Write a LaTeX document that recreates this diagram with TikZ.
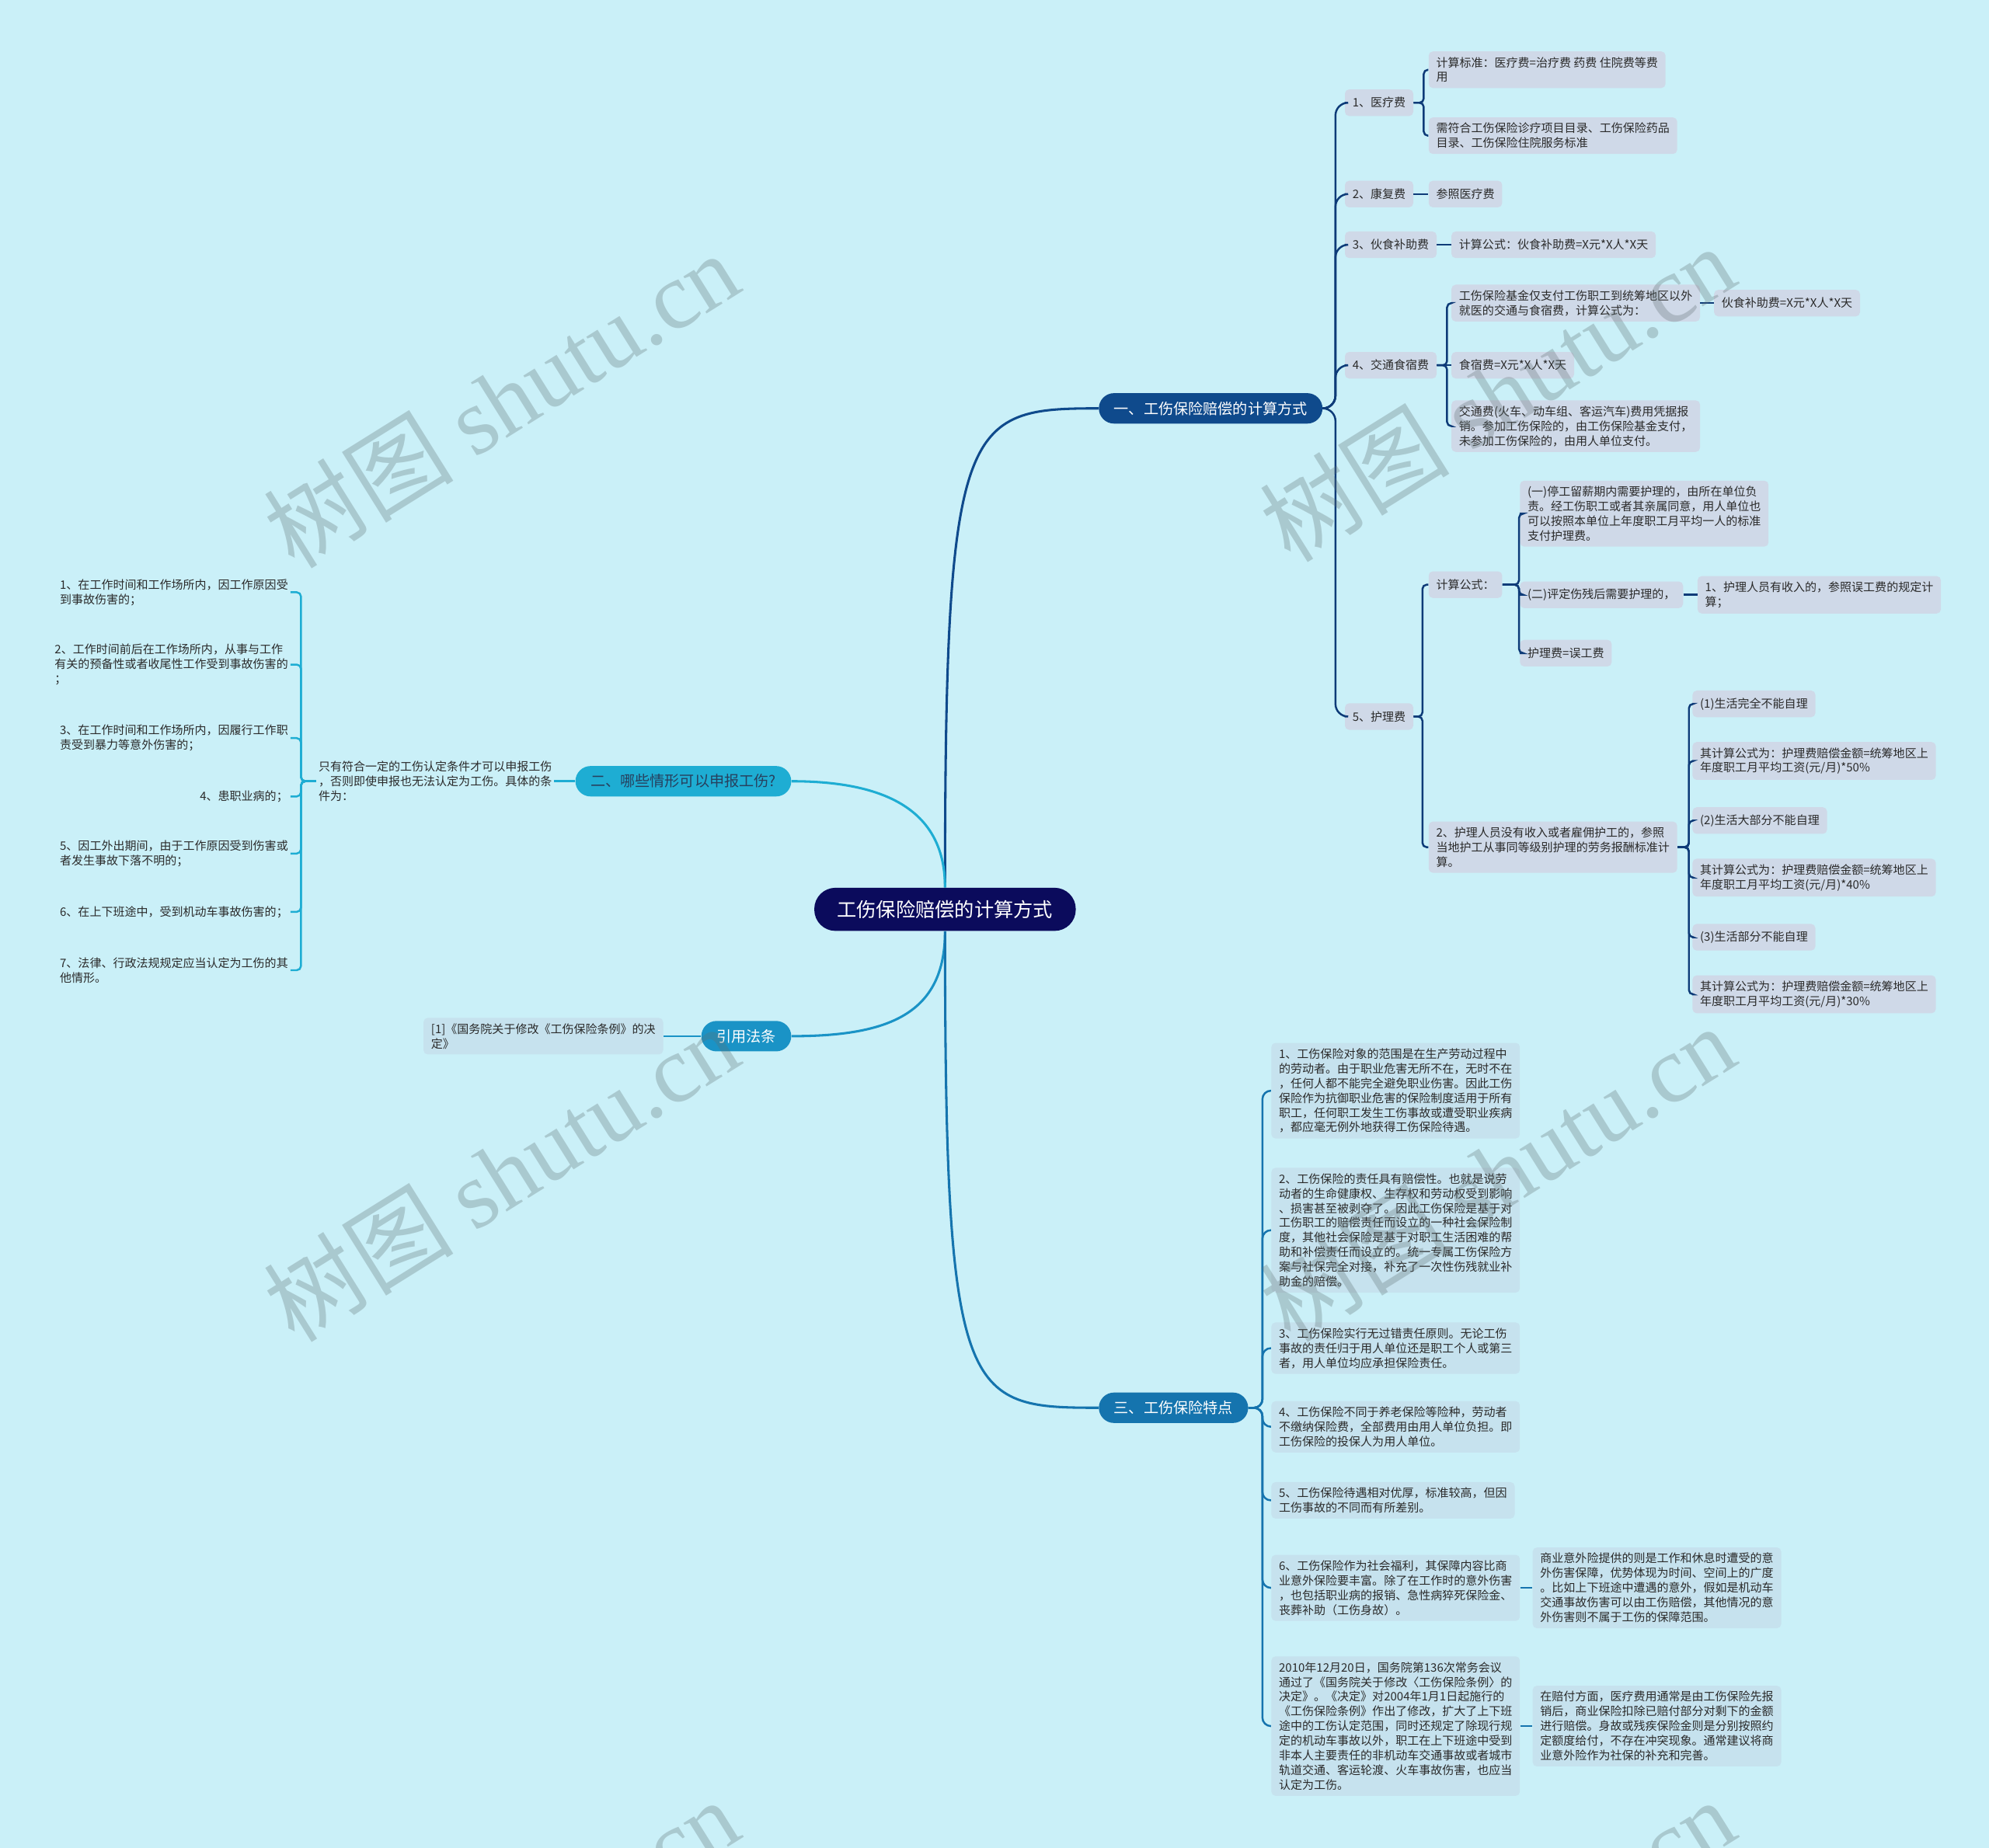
\documentclass[tikz,border=0pt]{standalone}
\usepackage{fontspec}
\setmainfont{Noto Sans CJK SC}
\newfontfamily\wmfont{Liberation Serif}
\definecolor{bgc}{HTML}{CAF0F8}
\definecolor{rootc}{HTML}{0B0B5C}
\definecolor{onec}{HTML}{0F4A8C}
\definecolor{twoc}{HTML}{1EADD3}
\definecolor{refc}{HTML}{1A93C6}
\definecolor{threec}{HTML}{1574AE}
\definecolor{leafa}{HTML}{CFD9E8}
\definecolor{leafc}{HTML}{C6E2EE}
\definecolor{linea}{HTML}{0E3B78}
\definecolor{txt}{HTML}{2A2A2A}
\definecolor{txtb}{HTML}{27405E}
\definecolor{wm}{HTML}{5F6F72}
\usetikzlibrary{positioning}

\begin{document}
\begin{tikzpicture}[x=0.03cm,y=-0.03cm,
  leaf/.style={fill=leafa,rounded corners=0.1cm,text=txt,font=\fontsize{7.85}{9.9}\selectfont,
    align=left,inner xsep=0.18cm,inner ysep=0.13cm,minimum height=0.63cm,anchor=west},
  leafb/.style={leaf,fill=leafc},
  bare/.style={text=txt,font=\fontsize{7.85}{9.9}\selectfont,align=left,inner sep=0.05cm,anchor=east},
  lvl/.style={rounded corners=0.36cm,minimum height=0.72cm,inner xsep=0.36cm,inner ysep=0cm,
    font=\fontsize{10}{12}\selectfont,text=white},
  root/.style={fill=rootc,rounded corners=0.5cm,minimum height=1.02cm,inner xsep=0.54cm,
    font=\fontsize{13.2}{15}\selectfont,text=white},
  cone/.style={draw=linea,line width=1.3pt,rounded corners=0.1cm},
  ctwo/.style={draw=twoc,line width=1.3pt,rounded corners=0.1cm},
  cthree/.style={draw=threec,line width=1.3pt,rounded corners=0.1cm},
  wmk/.style={text=wm,opacity=0.3,rotate=32,font=\fontsize{64}{64}\selectfont}]

\useasboundingbox (0,0) rectangle (1568,1457);
\fill[bgc] (0,0) rectangle (1568,1457);

\node[root] (ctr) at (745,717) {工伤保险赔偿的计算方式};
\node[lvl,fill=onec,anchor=west] (b1) at (866,322) {一、工伤保险赔偿的计算方式};
\node[lvl,fill=twoc,text=txtb,anchor=east] (b2) at (624,616) {二、哪些情形可以申报工伤?};
\node[lvl,fill=refc,anchor=east] (b4) at (624,817) {引用法条};
\node[lvl,fill=threec,anchor=west] (b3) at (866,1110) {三、工伤保险特点};

\draw[onec,line width=1.6pt] (ctr.north) .. controls (745,330) and (760,322) .. (b1.west);
\draw[twoc,line width=1.6pt] (ctr.north) .. controls (745,640) and (700,616) .. (b2.east);
\draw[refc,line width=1.6pt] (ctr.south) .. controls (745,800) and (700,817) .. (b4.east);
\draw[threec,line width=1.6pt] (ctr.south) .. controls (745,1105) and (760,1110) .. (b3.west);

\node[leaf] (m1) at (1060,81) {1、医疗费};
\node[leaf] (m1a) at (1126,55) {计算标准：医疗费=治疗费 药费 住院费等费\\用};
\node[leaf] (m1b) at (1126,107) {需符合工伤保险诊疗项目目录、工伤保险药品\\目录、工伤保险住院服务标准};
\node[leaf] (m2) at (1060,153) {2、康复费};
\node[leaf] (m2a) at (1126,153) {参照医疗费};
\node[leaf] (m3) at (1060,193) {3、伙食补助费};
\node[leaf] (m3a) at (1144,193) {计算公式：伙食补助费=X元*X人*X天};
\node[leaf] (m4) at (1060,288) {4、交通食宿费};
\node[leaf] (m4a) at (1144,239) {工伤保险基金仅支付工伤职工到统筹地区以外\\就医的交通与食宿费，计算公式为：};
\node[leaf] (m4a1) at (1351,239) {伙食补助费=X元*X人*X天};
\node[leaf] (m4b) at (1144,288) {食宿费=X元*X人*X天};
\node[leaf] (m4c) at (1144,336) {交通费(火车、动车组、客运汽车)费用凭据报\\销。参加工伤保险的，由工伤保险基金支付，\\未参加工伤保险的，由用人单位支付。};
\node[leaf] (m5) at (1060,565) {5、护理费};
\node[leaf] (m5a) at (1126,461) {计算公式：};
\node[leaf] (m5a1) at (1198,405) {(一)停工留薪期内需要护理的，由所在单位负\\责。经工伤职工或者其亲属同意，用人单位也\\可以按照本单位上年度职工月平均一人的标准\\支付护理费。};
\node[leaf] (m5a2) at (1198,469) {(二)评定伤残后需要护理的，};
\node[leaf] (m5a2a) at (1338,469) {1、护理人员有收入的，参照误工费的规定计\\算；};
\node[leaf] (m5a3) at (1198,515) {护理费=误工费};
\node[leaf] (m5b) at (1126,668) {2、护理人员没有收入或者雇佣护工的，参照\\当地护工从事同等级别护理的劳务报酬标准计\\算。};
\node[leaf] (m5b1) at (1334,555) {(1)生活完全不能自理};
\node[leaf] (m5b2) at (1334,600) {其计算公式为：护理费赔偿金额=统筹地区上\\年度职工月平均工资(元/月)*50\%};
\node[leaf] (m5b3) at (1334,647) {(2)生活大部分不能自理};
\node[leaf] (m5b4) at (1334,692) {其计算公式为：护理费赔偿金额=统筹地区上\\年度职工月平均工资(元/月)*40\%};
\node[leaf] (m5b5) at (1334,739) {(3)生活部分不能自理};
\node[leaf] (m5b6) at (1334,784) {其计算公式为：护理费赔偿金额=统筹地区上\\年度职工月平均工资(元/月)*30\%};

\foreach \n in {m1,m2,m3,m4,m5} \draw[cone,rounded corners=0.3cm] (b1.east) -- ++(10,0) |- (\n.west);
\foreach \n in {m1a,m1b} \draw[cone] (m1.east) -- ++(8,0) |- (\n.west);
\draw[cone] (m2.east) -- (m2a.west);
\draw[cone] (m3.east) -- (m3a.west);
\foreach \n in {m4a,m4c} \draw[cone] (m4.east) -- ++(8,0) |- (\n.west);
\draw[cone] (m4.east) -- (m4b.west);
\draw[cone] (m4a.east) -- (m4a1.west);
\foreach \n in {m5a,m5b} \draw[cone] (m5.east) -- ++(7,0) |- (\n.west);
\foreach \n in {m5a1,m5a2,m5a3} \draw[cone] (m5a.east) -- ++(13,0) |- (\n.west);
\draw[cone] (m5a2.east) -- (m5a2a.west);
\foreach \n in {m5b1,m5b2,m5b3,m5b4,m5b5,m5b6} \draw[cone] (m5b.east) -- ++(9,0) |- (\n.west);

\node[bare] (k) at (437,616) {只有符合一定的工伤认定条件才可以申报工伤\\，否则即使申报也无法认定为工伤。具体的条\\件为：};
\node[bare] (k1) at (229,467) {1、在工作时间和工作场所内，因工作原因受\\到事故伤害的；};
\node[bare] (k2) at (229,524) {2、工作时间前后在工作场所内，从事与工作\\有关的预备性或者收尾性工作受到事故伤害的\\；};
\node[bare] (k3) at (229,582) {3、在工作时间和工作场所内，因履行工作职\\责受到暴力等意外伤害的；};
\node[bare] (k4) at (229,628) {4、患职业病的；};
\node[bare] (k5) at (229,673) {5、因工外出期间，由于工作原因受到伤害或\\者发生事故下落不明的；};
\node[bare] (k6) at (229,719) {6、在上下班途中，受到机动车事故伤害的；};
\node[bare] (k7) at (229,765) {7、法律、行政法规规定应当认定为工伤的其\\他情形。};
\draw[ctwo] (b2.west) -- (k.east);
\foreach \n in {k1,k2,k3,k4,k5,k6,k7} \draw[ctwo] (k.west) -- ++(-12,0) |- (\n.east);

\node[leaf,fill=leafc,anchor=east] (r1) at (523,817) {[1]《国务院关于修改《工伤保险条例》的决\\定》};
\draw[refc,line width=1.3pt] (b4.west) -- (r1.east);

\node[leafb] (t1) at (1002,860) {1、工伤保险对象的范围是在生产劳动过程中\\的劳动者。由于职业危害无所不在，无时不在\\，任何人都不能完全避免职业伤害。因此工伤\\保险作为抗御职业危害的保险制度适用于所有\\职工，任何职工发生工伤事故或遭受职业疾病\\，都应毫无例外地获得工伤保险待遇。};
\node[leafb] (t2) at (1002,970) {2、工伤保险的责任具有赔偿性。也就是说劳\\动者的生命健康权、生存权和劳动权受到影响\\、损害甚至被剥夺了。因此工伤保险是基于对\\工伤职工的赔偿责任而设立的一种社会保险制\\度，其他社会保险是基于对职工生活困难的帮\\助和补偿责任而设立的。统一专属工伤保险方\\案与社保完全对接，补充了一次性伤残就业补\\助金的赔偿。};
\node[leafb] (t3) at (1002,1063) {3、工伤保险实行无过错责任原则。无论工伤\\事故的责任归于用人单位还是职工个人或第三\\者，用人单位均应承担保险责任。};
\node[leafb] (t4) at (1002,1125) {4、工伤保险不同于养老保险等险种，劳动者\\不缴纳保险费，全部费用由用人单位负担。即\\工伤保险的投保人为用人单位。};
\node[leafb] (t5) at (1002,1183) {5、工伤保险待遇相对优厚，标准较高，但因\\工伤事故的不同而有所差别。};
\node[leafb] (t6) at (1002,1252) {6、工伤保险作为社会福利，其保障内容比商\\业意外保险要丰富。除了在工作时的意外伤害\\，也包括职业病的报销、急性病猝死保险金、\\丧葬补助（工伤身故）。};
\node[leafb] (t6a) at (1208,1252) {商业意外险提供的则是工作和休息时遭受的意\\外伤害保障，优势体现为时间、空间上的广度\\。比如上下班途中遭遇的意外，假如是机动车\\交通事故伤害可以由工伤赔偿，其他情况的意\\外伤害则不属于工伤的保障范围。};
\node[leafb] (t7) at (1002,1361) {2010年12月20日，国务院第136次常务会议\\通过了《国务院关于修改〈工伤保险条例〉的\\决定》。《决定》对2004年1月1日起施行的\\《工伤保险条例》作出了修改，扩大了上下班\\途中的工伤认定范围，同时还规定了除现行规\\定的机动车事故以外，职工在上下班途中受到\\非本人主要责任的非机动车交通事故或者城市\\轨道交通、客运轮渡、火车事故伤害，也应当\\认定为工伤。};
\node[leafb] (t7a) at (1208,1361) {在赔付方面，医疗费用通常是由工伤保险先报\\销后，商业保险扣除已赔付部分对剩下的金额\\进行赔偿。身故或残疾保险金则是分别按照约\\定额度给付，不存在冲突现象。通常建议将商\\业意外险作为社保的补充和完善。};
\foreach \n in {t1,t2,t3,t4,t5,t6,t7} \draw[cthree,rounded corners=0.2cm] (b3.east) -- ++(11,0) |- (\n.west);
\draw[cthree] (t6.east) -- (t6a.west);
\draw[cthree] (t7.east) -- (t7a.west);

\foreach \p in {(395,315),(1180,310),(395,925),(1180,925),(395,1535),(1180,1535)}
  \node[wmk] at \p {树图 {\wmfont shutu.cn}};
\end{tikzpicture}
\end{document}
